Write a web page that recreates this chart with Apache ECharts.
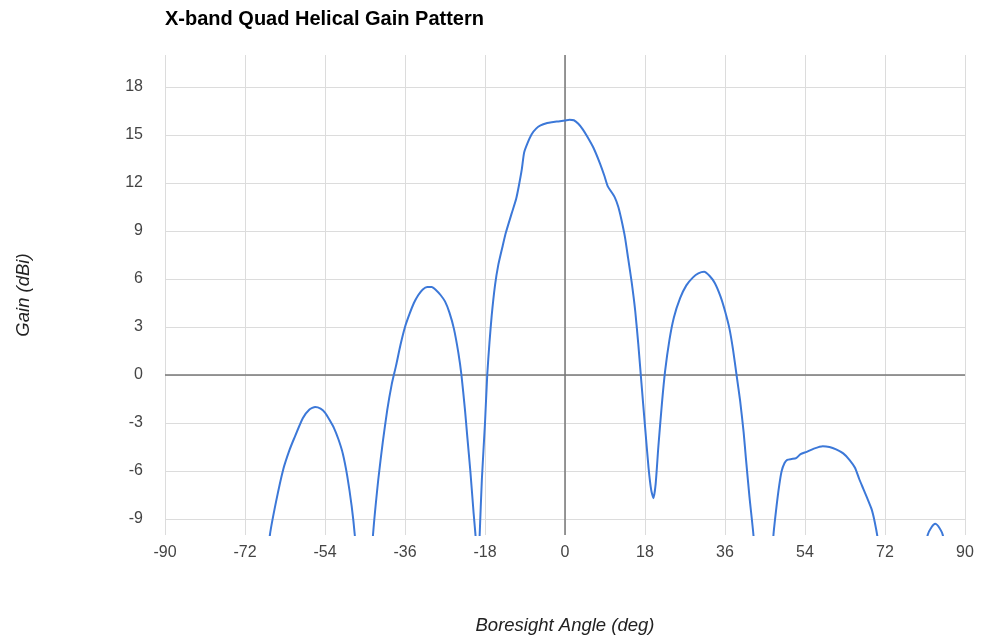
<!DOCTYPE html>
<html>
<head>
<meta charset="utf-8">
<script src="https://cdn.jsdelivr.net/npm/echarts@6/dist/echarts.min.js"></script>
<style>html,body{margin:0;padding:0;background:#fff}#c{width:982px;height:641px}</style>
</head>
<body>
<div id="c"></div>
<script>
const titleText = 'X-band Quad Helical Gain Pattern';
const xTitle = 'Boresight Angle (deg)';
const yTitle = 'Gain (dBi)';
const yTicks = [-9, -6, -3, 0, 3, 6, 9, 12, 15, 18];
const angles = [
  -68, -66.4, -65, -63.4, -62, -61, -59, -57.5, -56.2, -55, -54, -53, -52, -51, -50, -49, -48, -47.3, -46.5, -45,
  -43.8, -43.2, -42, -41, -40, -39, -38, -37, -36, -35, -34, -33, -32, -31, -30, -29, -28, -27, -26, -25, -24, -23.3, -22.5, -22, -21.3, -20.6, -20, -19.6,
  -19.2, -18.7, -18, -17.5, -17, -16.5, -15.75, -15, -14, -13.3, -12, -11, -10.4, -9.75, -9.2, -8.5, -7.5, -6.5, -5.5, -4, -3, -1.5, 0, 1, 2, 3, 4, 5, 6.4, 7.9, 8.8, 9.6, 10.3, 11.2, 12, 12.7, 13.5, 14.2, 15, 15.8, 16.5, 17.2, 18, 18.8, 19.4, 19.9, 20.4, 21, 21.8, 22.5, 23.5, 24.5, 25.9, 27.3, 28.8, 30, 31.3, 32.5, 33.7, 35, 36, 37, 37.8, 38.6, 39.4, 40.2, 40.7, 41.5, 42.4, 43.2, 44.5,
  46.2, 46.9, 47.6, 48.2, 48.75, 49.4, 50, 51, 52, 53, 54.4, 56, 58, 59.5, 61, 62.6, 64, 65.25, 66.2, 67.1, 68, 69, 69.7, 70.4, 71.5, 76,
  80.5, 81.6, 82.5, 83.3, 84, 85, 86
];
const gains = [
  -14, -10, -7.9, -5.9, -4.7, -4.0, -2.7, -2.15, -2.0, -2.1, -2.35, -2.8, -3.3, -4.0, -4.9, -6.3, -8.2, -10, -13, -18,
  -13, -10, -6.5, -4.2, -2.2, -0.6, 0.6, 1.9, 3.0, 3.8, 4.5, 5.0, 5.35, 5.5, 5.5, 5.3, 5.0, 4.6, 3.9, 2.9, 1.4, 0, -2.2, -3.8, -6, -8.5, -10.5, -13,
  -10, -6.5, -3, 0, 2.0, 3.7, 5.6, 6.9, 8.1, 8.9, 10.1, 11.0, 11.8, 12.8, 13.9, 14.45, 15.05, 15.4, 15.6, 15.75, 15.8, 15.85, 15.9, 15.95, 15.92, 15.7, 15.35, 14.9, 14.2, 13.2, 12.5, 11.8, 11.5, 11.1, 10.5, 9.7, 8.6, 7.3, 5.8, 4, 1.9, -0.5, -3.2, -5.8, -7.2, -7.7, -6.8, -4.5, -1.8, 0.2, 2.2, 3.6, 4.8, 5.6, 6.1, 6.35, 6.45, 6.2, 5.75, 4.9, 4.0, 2.9, 1.6, 0, -1.6, -3.6, -5.2, -7.6, -10, -13, -18,
  -13, -10, -8.2, -6.9, -6.0, -5.5, -5.3, -5.25, -5.2, -4.95, -4.8, -4.6, -4.45, -4.5, -4.65, -4.9, -5.3, -5.8, -6.5, -7.1, -7.7, -8.4, -9.2, -10.3, -13, -20,
  -12, -10, -9.5, -9.3, -9.45, -10, -12
];
const data = angles.map((a, i) => [a, gains[i]]);
const FONT = '"Liberation Sans", Arial, Helvetica, sans-serif';
const chart = echarts.init(document.getElementById('c'));
chart.setOption({
  animation: false,
  title: {
    text: titleText, left: 160, top: 4,
    textStyle: { fontFamily: FONT, fontWeight: 'bold', fontSize: 20, color: '#000' }
  },
  grid: { left: 165, right: 17, top: 55, bottom: 106, containLabel: false },
  xAxis: {
    type: 'value', min: -90, max: 90, interval: 18,
    name: xTitle, nameLocation: 'middle', nameGap: 81,
    nameTextStyle: { fontFamily: FONT, fontStyle: 'italic', fontSize: 18.5, color: '#222' },
    axisLine: { show: false }, axisTick: { show: false },
    axisLabel: { fontFamily: FONT, fontSize: 16, color: '#444', margin: 10 },
    splitLine: { show: true, lineStyle: { color: '#dcdcdc', width: 1 } }
  },
  yAxis: {
    type: 'value', min: -10, max: 20,
    name: yTitle, nameLocation: 'middle', nameGap: 132, nameRotate: 90,
    nameTextStyle: { fontFamily: FONT, fontStyle: 'italic', fontSize: 18.5, color: '#222' },
    axisLine: { show: false },
    axisTick: { show: false, customValues: yTicks },
    axisLabel: { fontFamily: FONT, fontSize: 16, color: '#444', margin: 22, customValues: yTicks },
    splitLine: { show: true, lineStyle: { color: '#dcdcdc', width: 1 } }
  },
  series: [{
    type: 'line', data: data, showSymbol: false, smooth: 0.2, clip: true,
    lineStyle: { color: '#3c78d8', width: 2 },
    z: 3,
    markLine: {
      silent: true, symbol: ['none', 'none'], label: { show: false },
      lineStyle: { color: '#777', width: 1.5, type: 'solid' },
      z: 2,
      data: [{ xAxis: 0 }, { yAxis: 0 }]
    }
  }]
});
</script>
</body>
</html>
